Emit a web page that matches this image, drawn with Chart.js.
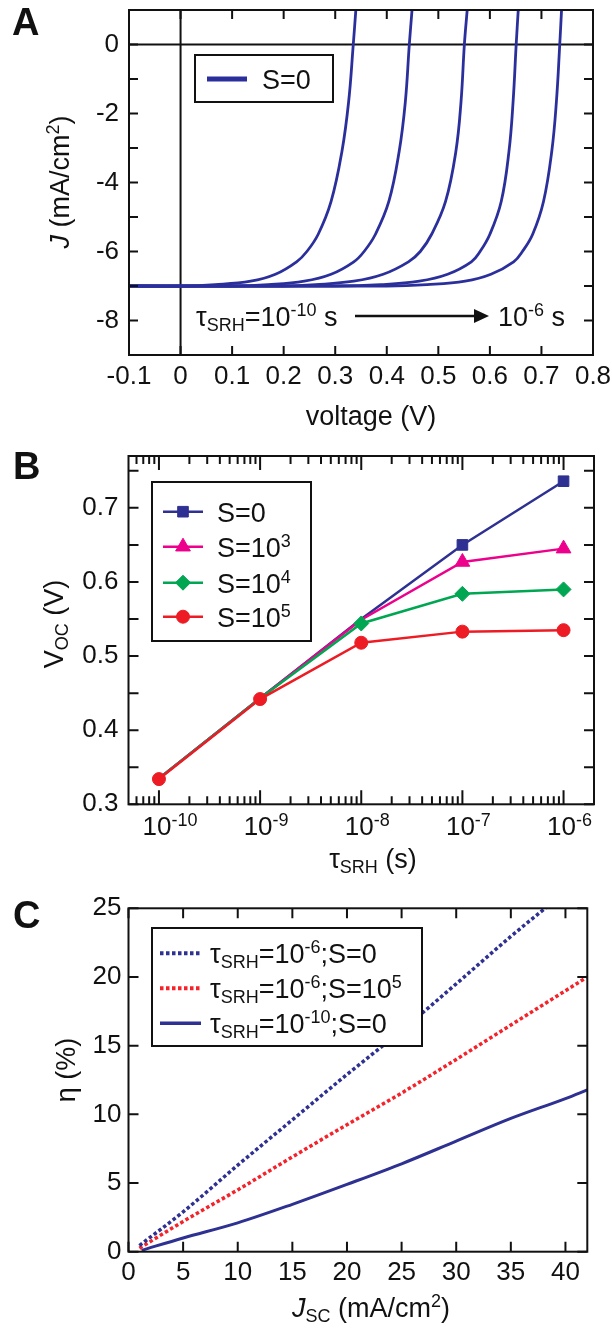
<!DOCTYPE html>
<html>
<head>
<meta charset="utf-8">
<script src="https://cdn.jsdelivr.net/npm/chart.js@4.4.1/dist/chart.umd.min.js"></script>
<style>
  html, body { margin: 0; padding: 0; background: #fff; }
  .panel { position: absolute; left: 0; }
  canvas { display: block; }
</style>
</head>
<body>
<div class="panel" style="top:0"><canvas id="chart-a" width="612" height="440"></canvas></div>
<div class="panel" style="top:440px"><canvas id="chart-b" width="612" height="440"></canvas></div>
<div class="panel" style="top:880px"><canvas id="chart-c" width="612" height="449"></canvas></div>
<script>
const FONT = '"Liberation Sans", Arial, Helvetica, sans-serif';
const INK = "#111";

// ---- Panel A: J-V curves for S=0, tau_SRH = 1e-10 ... 1e-6 s
const jLevelsA = [-7, -7, -6.96, -6.86, -6.66, -6.3, -6.0, -5.5, -4.55, -3.1, -1.66, 0, 1];
const vTau10 = [-0.1, 0.0, 0.067, 0.136, 0.184, 0.225, 0.245, 0.267, 0.292, 0.313, 0.326, 0.335, 0.340];
const vTau9  = [-0.1, 0.1, 0.170, 0.240, 0.292, 0.336, 0.356, 0.378, 0.404, 0.424, 0.436, 0.4437, 0.449];
const vTau8  = [-0.1, 0.2, 0.262, 0.336, 0.393, 0.442, 0.465, 0.487, 0.514, 0.534, 0.544, 0.5505, 0.556];
const vTau7  = [-0.1, 0.3, 0.388, 0.463, 0.518, 0.564, 0.581, 0.600, 0.622, 0.637, 0.645, 0.651, 0.655];
const vTau6  = [-0.1, 0.4, 0.478, 0.552, 0.602, 0.646, 0.663, 0.683, 0.704, 0.720, 0.729, 0.7355, 0.739];
const xTicksA = [-0.1, 0, 0.1, 0.2, 0.3, 0.4, 0.5, 0.6, 0.7, 0.8];
const yTicksA = [-9, -8, -7, -6, -5, -4, -3, -2, -1, 0, 1];
const yLabelsA = [0, -2, -4, -6, -8];

// ---- Panel B: Voc vs tau_SRH
const tauB = [1e-10, 1e-9, 1e-8, 1e-7, 1e-6];
const vocS0 = [0.335, 0.443, 0.55, 0.65, 0.736];
const vocS1e3 = [0.335, 0.443, 0.549, 0.627, 0.645];
const vocS1e4 = [0.335, 0.443, 0.544, 0.584, 0.59];
const vocS1e5 = [0.334, 0.442, 0.518, 0.533, 0.535];
const xDecadesB = [-10, -9, -8, -7, -6];
const yTicksB = [0.3, 0.35, 0.4, 0.45, 0.5, 0.55, 0.6, 0.65, 0.7, 0.75];
const yLabelsB = [0.3, 0.4, 0.5, 0.6, 0.7];

// ---- Panel C: efficiency vs Jsc
const jscBlueDot = [1.0, 5, 10, 15, 20, 25, 30, 35, 38.6];
const etaBlueDot = [0.45, 2.9, 6.3, 9.6, 12.9, 16.1, 19.5, 22.95, 25.3];
const jscRedDot = [1.0, 5, 10, 15, 20, 25, 30, 35, 40, 42];
const etaRedDot = [0.25, 2.2, 4.5, 6.9, 9.25, 11.55, 14.0, 16.5, 19.0, 20.0];
const jscSolid = [1.2, 5, 10, 15, 20, 25, 30, 35, 40, 42];
const etaSolid = [0.1, 1.0, 2.1, 3.45, 4.9, 6.4, 8.05, 9.7, 11.15, 11.78];
const xTicksC = [0, 5, 10, 15, 20, 25, 30, 35, 40];
const yTicksC = [0, 5, 10, 15, 20, 25];

const BLUE = "#2e3192", MAGENTA = "#ec008c", GREEN = "#00a651", RED = "#ed1c24";
const CURVE_A = "#2b2f9c", RED_DOT = "#f5222a";

const pts = (xs, ys) => xs.map((x, i) => ({ x, y: ys[i] }));

// text helpers (sub/superscripts)
function fontStr(p) {
  return (p.it ? "italic " : "") + (p.b ? "bold " : "") + p.sz + "px " + FONT;
}
function rich(ctx, parts, x, y, align) {
  let w = 0;
  parts.forEach(p => { ctx.font = fontStr(p); w += ctx.measureText(p.t).width; });
  let cx = align === "center" ? x - w / 2 : align === "right" ? x - w : x;
  ctx.textAlign = "left";
  ctx.textBaseline = "alphabetic";
  parts.forEach(p => {
    ctx.font = fontStr(p);
    ctx.fillText(p.t, cx, y + (p.dy || 0));
    cx += ctx.measureText(p.t).width;
  });
  return w;
}
function richUp(ctx, parts, x, y) {
  ctx.save();
  ctx.translate(x, y);
  ctx.rotate(-Math.PI / 2);
  rich(ctx, parts, 0, 0, "center");
  ctx.restore();
}
const T = (t, sz = 27) => ({ t, sz });
const TI = (t, sz = 27) => ({ t, sz, it: true });
const SUB = t => ({ t, sz: 18, dy: 5 });
const SUP = t => ({ t, sz: 18, dy: -10 });
const LABEL = t => ({ t, sz: 38, b: true });

function legendBox(ctx, x, y, w, h) {
  ctx.fillStyle = "#fff";
  ctx.fillRect(x, y, w, h);
  ctx.strokeStyle = INK;
  ctx.lineWidth = 2;
  ctx.strokeRect(x, y, w, h);
  ctx.fillStyle = INK;
}

// fixed axis size so the plot area lands where the figure has it
function fixedAxis(size) {
  return scale => {
    if (scale.isHorizontal()) scale.height = size; else scale.width = size;
    scale.paddingLeft = scale.paddingRight = scale.paddingTop = scale.paddingBottom = 0;
  };
}
function tickOpts(pad, cb) {
  return { font: { family: FONT, size: 26 }, color: INK, padding: pad, maxRotation: 0, autoSkip: false, callback: cb };
}
const noGrid = { display: false, drawTicks: false };

// box around the plot + inward tick marks on all four sides
const axesFrame = {
  id: "axesFrame",
  beforeDatasetsDraw(chart, args, opts) {
    if (!opts.zeroLines) return;
    const { ctx, chartArea: a, scales: { x, y } } = chart;
    const x0 = x.getPixelForValue(0), y0 = y.getPixelForValue(0);
    ctx.save();
    ctx.strokeStyle = INK;
    ctx.lineWidth = 2;
    ctx.beginPath();
    ctx.moveTo(x0, a.top); ctx.lineTo(x0, a.bottom);
    ctx.moveTo(a.left, y0); ctx.lineTo(a.right, y0);
    ctx.stroke();
    ctx.restore();
  },
  afterDatasetsDraw(chart, args, opts) {
    const { ctx, chartArea: a, scales: { x, y } } = chart;
    ctx.save();
    ctx.strokeStyle = INK;
    ctx.lineWidth = 2;
    ctx.beginPath();
    x.ticks.forEach(t => {
      const p = x.getPixelForValue(t.value);
      const len = t.major === false ? opts.minorLen : opts.xLen;
      ctx.moveTo(p, a.bottom); ctx.lineTo(p, a.bottom - len);
      ctx.moveTo(p, a.top); ctx.lineTo(p, a.top + len);
    });
    y.ticks.forEach(t => {
      const p = y.getPixelForValue(t.value);
      ctx.moveTo(a.left, p); ctx.lineTo(a.left + opts.yLen, p);
      ctx.moveTo(a.right, p); ctx.lineTo(a.right - opts.yLen, p);
    });
    ctx.stroke();
    ctx.strokeRect(a.left, a.top, a.right - a.left, a.bottom - a.top);
    ctx.restore();
  }
};

const common = {
  responsive: false,
  devicePixelRatio: 1,
  animation: false,
  events: [],
  plugins: { legend: { display: false }, tooltip: { enabled: false } }
};

// ---------------- Panel A
const curvesA = [vTau10, vTau9, vTau8, vTau7, vTau6].map(vs => ({
  data: pts(vs, jLevelsA),
  showLine: true,
  borderColor: CURVE_A,
  borderWidth: 2.8,
  pointRadius: 0,
  tension: 0.4
}));

const decorA = {
  id: "decorA",
  afterDraw(chart) {
    const ctx = chart.ctx;
    ctx.save();
    ctx.fillStyle = INK;
    rich(ctx, [LABEL("A")], 12, 35, "left");
    richUp(ctx, [TI("J"), T(" (mA/cm"), SUP("2"), T(")")], 69, 182);
    rich(ctx, [T("voltage (V)")], 371, 425, "center");
    rich(ctx, [T("τ"), SUB("SRH"), T("=10"), SUP("-10"), T(" s")], 196, 326, "left");
    // arrow
    ctx.strokeStyle = INK;
    ctx.lineWidth = 2.5;
    ctx.beginPath(); ctx.moveTo(355, 316); ctx.lineTo(478, 316); ctx.stroke();
    ctx.beginPath(); ctx.moveTo(489, 316); ctx.lineTo(474, 309); ctx.lineTo(474, 323); ctx.closePath(); ctx.fill();
    rich(ctx, [T("10"), SUP("-6"), T(" s")], 498, 326, "left");
    // legend
    legendBox(ctx, 195, 55, 138, 47);
    ctx.strokeStyle = CURVE_A;
    ctx.lineWidth = 5;
    ctx.beginPath(); ctx.moveTo(207, 79); ctx.lineTo(247, 79); ctx.stroke();
    rich(ctx, [T("S=0")], 262, 89, "left");
    ctx.restore();
  }
};

new Chart(document.getElementById("chart-a"), {
  type: "scatter",
  data: { datasets: curvesA },
  options: {
    ...common,
    layout: { padding: { left: 0, right: 19, top: 10, bottom: 0 } },
    scales: {
      x: {
        type: "linear", min: -0.1, max: 0.8,
        grid: noGrid, border: { display: false },
        afterBuildTicks: s => { s.ticks = xTicksA.map(v => ({ value: v })); },
        afterFit: fixedAxis(85),
        ticks: tickOpts(6, v => String(v))
      },
      y: {
        type: "linear", min: -9, max: 1,
        grid: noGrid, border: { display: false },
        afterBuildTicks: s => { s.ticks = yTicksA.map(v => ({ value: v })); },
        afterFit: fixedAxis(129),
        ticks: tickOpts(10, v => (yLabelsA.includes(v) ? String(v) : ""))
      }
    },
    plugins: { ...common.plugins, axesFrame: { zeroLines: true, xLen: 9, yLen: 9 } }
  },
  plugins: [axesFrame, decorA]
});

// ---------------- Panel B
const seriesB = [
  { label: "S=0", ys: vocS0, color: BLUE, style: "rect", r: 7.5, show: [0, 0, 0, 1, 1], order: 4, base: "S=0", sup: "" },
  { label: "S=1e3", ys: vocS1e3, color: MAGENTA, style: "triangle", r: 8.5, show: [0, 0, 0, 1, 1], order: 3, base: "S=10", sup: "3" },
  { label: "S=1e4", ys: vocS1e4, color: GREEN, style: "rectRot", r: 7.5, show: [0, 0, 1, 1, 1], order: 2, base: "S=10", sup: "4" },
  { label: "S=1e5", ys: vocS1e5, color: RED, style: "circle", r: 6.5, show: [1, 1, 1, 1, 1], order: 1, base: "S=10", sup: "5" }
];

const decorB = {
  id: "decorB",
  afterDraw(chart) {
    const ctx = chart.ctx;
    const x = chart.scales.x;
    ctx.save();
    ctx.fillStyle = INK;
    rich(ctx, [LABEL("B")], 13, 39, "left");
    richUp(ctx, [T("V"), SUB("OC"), T(" (V)")], 63, 184);
    rich(ctx, [T("τ"), SUB("SRH"), T(" (s)")], 373, 428, "center");
    // decade labels 10^n
    xDecadesB.forEach(e => {
      const p = x.getPixelForValue(Math.pow(10, e));
      ctx.font = "26px " + FONT;
      const bw = ctx.measureText("10").width;
      rich(ctx, [{ t: "10", sz: 26 }, { t: String(e), sz: 18, dy: -9 }], p - bw / 2 - 2, 395, "left");
    });
    // legend
    legendBox(ctx, 152, 42, 159, 159);
    const ys = [71.7, 106.7, 142.7, 176.7];
    seriesB.forEach((s, i) => {
      const yy = ys[i];
      ctx.strokeStyle = s.color;
      ctx.fillStyle = s.color;
      ctx.lineWidth = 2.5;
      ctx.beginPath(); ctx.moveTo(163, yy); ctx.lineTo(203, yy); ctx.stroke();
      ctx.lineWidth = 1;
      Chart.helpers.drawPoint(ctx, { pointStyle: s.style, radius: s.r, rotation: 0, borderWidth: 1 }, 183, yy);
      ctx.fillStyle = INK;
      const parts = [T(s.base)];
      if (s.sup) parts.push(SUP(s.sup));
      rich(ctx, parts, 217, yy + 10, "left");
    });
    ctx.restore();
  }
};

new Chart(document.getElementById("chart-b"), {
  type: "scatter",
  data: {
    datasets: seriesB.map(s => ({
      label: s.label,
      data: pts(tauB, s.ys),
      showLine: true,
      borderColor: s.color,
      backgroundColor: s.color,
      borderWidth: 2.5,
      pointStyle: s.style,
      pointRadius: s.show.map(f => f * s.r),
      pointBorderWidth: 1,
      order: s.order
    }))
  },
  options: {
    ...common,
    layout: { padding: { left: 0, right: 18, top: 16, bottom: 0 } },
    scales: {
      x: {
        type: "logarithmic", min: 5e-11, max: 2e-6,
        grid: noGrid, border: { display: false },
        afterBuildTicks: s => {
          const t = [];
          for (let e = -11; e <= -6; e++) {
            for (let m = 1; m <= 9; m++) {
              const v = m * Math.pow(10, e);
              if (v >= 5e-11 && v <= 2e-6) t.push({ value: v, major: m === 1 });
            }
          }
          s.ticks = t;
        },
        afterFit: fixedAxis(75.7),
        ticks: { display: false }
      },
      y: {
        type: "linear", min: 0.3, max: 0.77,
        grid: noGrid, border: { display: false },
        afterBuildTicks: s => { s.ticks = yTicksB.map(v => ({ value: v })); },
        afterFit: fixedAxis(128.5),
        ticks: tickOpts(10, v => (yLabelsB.includes(v) ? String(v) : ""))
      }
    },
    plugins: { ...common.plugins, axesFrame: { xLen: 14, minorLen: 8, yLen: 10 } }
  },
  plugins: [axesFrame, decorB]
});

// ---------------- Panel C
const seriesC = [
  { xs: jscBlueDot, ys: etaBlueDot, color: BLUE, dash: [3.5, 2.5], w: 3.5, tau: "-6", s: "0", sSup: "" },
  { xs: jscRedDot, ys: etaRedDot, color: RED_DOT, dash: [3.5, 2.5], w: 3.5, tau: "-6", s: "10", sSup: "5" },
  { xs: jscSolid, ys: etaSolid, color: BLUE, dash: [], w: 3, tau: "-10", s: "0", sSup: "" }
];

const decorC = {
  id: "decorC",
  afterDraw(chart) {
    const ctx = chart.ctx;
    ctx.save();
    ctx.fillStyle = INK;
    rich(ctx, [LABEL("C")], 13, 48, "left");
    richUp(ctx, [T("η"), T(" (%)")], 75, 190);
    rich(ctx, [TI("J"), SUB("SC"), T(" (mA/cm"), SUP("2"), T(")")], 371, 437, "center");
    legendBox(ctx, 152, 48, 270, 118);
    const ys = [73.3, 108.3, 143.3];
    seriesC.forEach((s, i) => {
      const yy = ys[i];
      ctx.strokeStyle = s.color;
      ctx.lineWidth = s.w + 0.5;
      ctx.setLineDash(s.dash);
      ctx.beginPath(); ctx.moveTo(160, yy); ctx.lineTo(201, yy); ctx.stroke();
      ctx.setLineDash([]);
      ctx.fillStyle = INK;
      const parts = [T("τ"), SUB("SRH"), T("=10"), SUP(s.tau), T(";S=" + s.s)];
      if (s.sSup) parts.push(SUP(s.sSup));
      rich(ctx, parts, 210, yy + 10, "left");
    });
    ctx.restore();
  }
};

new Chart(document.getElementById("chart-c"), {
  type: "scatter",
  data: {
    datasets: seriesC.map(s => ({
      data: pts(s.xs, s.ys),
      showLine: true,
      borderColor: s.color,
      borderWidth: s.w,
      borderDash: s.dash,
      borderCapStyle: "butt",
      pointRadius: 0,
      clip: 0,
      cubicInterpolationMode: "monotone"
    }))
  },
  options: {
    ...common,
    layout: { padding: { left: 0, right: 24.7, top: 28.3, bottom: 0 } },
    scales: {
      x: {
        type: "linear", min: 0, max: 42,
        grid: noGrid, border: { display: false },
        afterBuildTicks: s => { s.ticks = xTicksC.map(v => ({ value: v })); },
        afterFit: fixedAxis(77.3),
        ticks: tickOpts(6, v => String(v))
      },
      y: {
        type: "linear", min: 0, max: 25,
        grid: noGrid, border: { display: false },
        afterBuildTicks: s => { s.ticks = yTicksC.map(v => ({ value: v })); },
        afterFit: fixedAxis(128.5),
        ticks: tickOpts(7, v => String(v))
      }
    },
    plugins: { ...common.plugins, axesFrame: { xLen: 10, yLen: 10 } }
  },
  plugins: [axesFrame, decorC]
});
</script>
</body>
</html>
